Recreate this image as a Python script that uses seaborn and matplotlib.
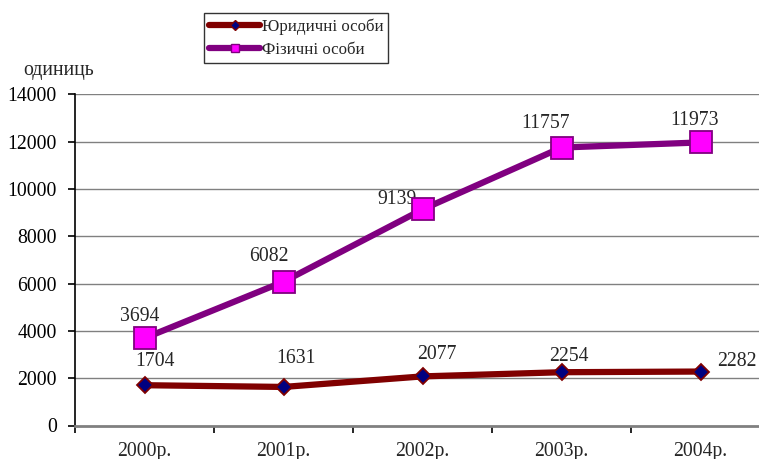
import matplotlib
matplotlib.use("Agg")
import matplotlib.pyplot as plt
import seaborn as sns
import pandas as pd
from matplotlib.lines import Line2D

years = ["2000р.", "2001р.", "2002р.", "2003р.", "2004р."]
legal = [1704, 1631, 2077, 2254, 2282]
physical = [3694, 6082, 9139, 11757, 11973]
series_names = ["Юридичні особи", "Фізичні особи"]
y_ticks = [0, 2000, 4000, 6000, 8000, 10000, 12000, 14000]
y_label = "одиниць"

sns.set_style("white")
plt.rcParams["font.family"] = ["Liberation Serif", "DejaVu Serif"]

df = pd.DataFrame({
    "year": years * 2,
    "value": legal + physical,
    "series": [series_names[0]] * len(years) + [series_names[1]] * len(years),
})
df["pos"] = list(range(len(years))) * 2

fig = plt.figure(figsize=(7.59, 4.59), dpi=100)
ax = fig.add_axes([75 / 759, 1 - 425.5 / 459, 695 / 759, (425.5 - 94.5) / 459])

# gridlines
for t in y_ticks[1:]:
    ax.axhline(t, color="#808080", lw=1.0, zorder=0)

dark_red = "#800000"
purple = "#800080"
FS = 14.2

sns.lineplot(data=df[df["series"] == series_names[0]], x="pos", y="value", ax=ax,
             color=dark_red, lw=4.5, marker="D", markersize=8,
             markerfacecolor="#000080", markeredgecolor=dark_red, markeredgewidth=1.3,
             legend=False, zorder=3)
sns.lineplot(data=df[df["series"] == series_names[1]], x="pos", y="value", ax=ax,
             color=purple, lw=4.5, marker="s", markersize=16,
             markerfacecolor="#FF00FF", markeredgecolor=purple, markeredgewidth=1.3,
             legend=False, zorder=4)

ax.set_xlim(-0.5, 4.5)
ax.set_ylim(0, 14000)
ax.set_yticks(y_ticks)
ax.set_yticklabels([str(t) for t in y_ticks], fontsize=FS)
ax.tick_params(axis="y", direction="out", length=5, width=1.2, pad=8, left=True, colors="black")

# x: ticks at boundaries, labels at centers
ax.set_xticks([-0.5, 0.5, 1.5, 2.5, 3.5, 4.5])
ax.set_xticklabels([""] * 6)
ax.tick_params(axis="x", which="major", direction="out", length=5, width=1.2, bottom=True, colors="black")
ax.set_xticks(range(len(years)), minor=True)
ax.set_xticklabels(years, minor=True, fontsize=FS)
ax.tick_params(axis="x", which="minor", length=0, pad=12)

ax.set_xlabel("")
ax.set_ylabel("")
for s in ["top", "right"]:
    ax.spines[s].set_visible(False)
ax.spines["left"].set_color("black")
ax.spines["left"].set_linewidth(1.2)
ax.spines["bottom"].set_color("#808080")
ax.spines["bottom"].set_linewidth(2.0)

# data labels (offsets in pixels -> points)
px = 72 / 100
phys_off = [(-5, 22), (-15, 25), (-25, 10), (-16, 24), (-6, 22)]
legal_off = [(10, 24), (13, 28), (14, 22), (7, 16), (36, 10)]
for i, v in enumerate(physical):
    dx, dy = phys_off[i]
    ax.annotate(str(v), (i, v), xytext=(dx * px, dy * px), textcoords="offset points",
                ha="center", va="center", fontsize=FS, zorder=2, annotation_clip=False)
for i, v in enumerate(legal):
    dx, dy = legal_off[i]
    ax.annotate(str(v), (i, v), xytext=(dx * px, dy * px), textcoords="offset points",
                ha="center", va="center", fontsize=FS, zorder=5, annotation_clip=False)

fig.text(59 / 759, 1 - 70 / 459, y_label, ha="center", va="center", fontsize=FS)

handles = [
    Line2D([0], [0], color=dark_red, lw=4.5, marker="D", markersize=5,
           markerfacecolor="#000080", markeredgecolor=dark_red),
    Line2D([0], [0], color=purple, lw=4.5, marker="s", markersize=6,
           markerfacecolor="#FF00FF", markeredgecolor=purple),
]
leg = fig.legend(handles, series_names, loc="upper left",
                 bbox_to_anchor=(204 / 759, 1 - 13 / 459), frameon=True, fancybox=False,
                 fontsize=12.2, handlelength=3.0, handletextpad=0.1, borderpad=0.3,
                 borderaxespad=0, labelspacing=0.45)
leg.get_frame().set_edgecolor("black")
leg.get_frame().set_linewidth(1.0)

fig.savefig("out.png", dpi=100)
